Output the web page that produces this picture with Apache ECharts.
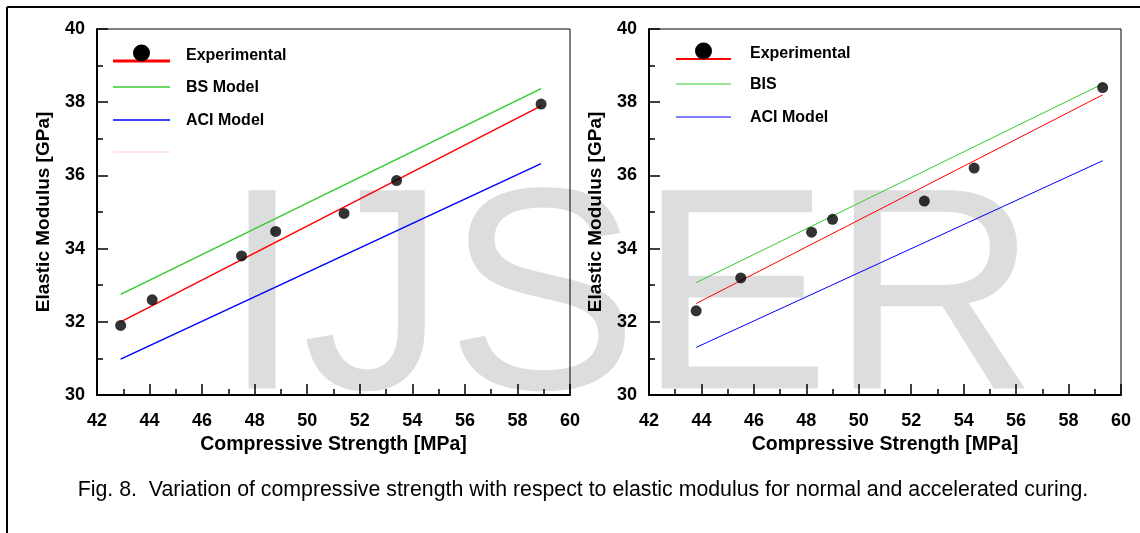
<!DOCTYPE html>
<html>
<head>
<meta charset="utf-8">
<script src="https://cdn.jsdelivr.net/npm/echarts@6/dist/echarts.min.js"></script>
<style>
  html, body { margin: 0; padding: 0; background: #fff; }
  #main { width: 1140px; height: 533px; }
</style>
</head>
<body>
<div id="main"></div>
<script>
// normal curing (left) - measured points and model lines [MPa, GPa]
var expNormal = [[42.9, 31.9], [44.1, 32.6], [47.5, 33.8], [48.8, 34.47], [51.4, 34.96], [53.4, 35.86], [58.9, 37.95]];
var fitNormal = [[42.9, 32.0], [58.9, 37.9]];
var bsNormal = [[42.9, 32.75], [58.9, 38.37]];
var aciNormal = [[42.9, 30.98], [58.9, 36.32]];

// accelerated curing (right)
var expAccel = [[43.8, 32.3], [45.5, 33.2], [48.2, 34.45], [49.0, 34.8], [52.5, 35.3], [54.4, 36.2], [59.3, 38.4]];
var fitAccel = [[43.8, 32.5], [59.3, 38.2]];
var bisAccel = [[43.8, 33.07], [59.3, 38.5]];
var aciAccel = [[43.8, 31.3], [59.3, 36.4]];

var legendNormal = ['Experimental', 'BS Model', 'ACI Model'];
var legendAccel = ['Experimental', 'BIS', 'ACI Model'];

var xName = 'Compressive Strength [MPa]';
var yName = 'Elastic Modulus [GPa]';
var caption = 'Fig. 8.  Variation of compressive strength with respect to elastic modulus for normal and accelerated curing.';

var FONT = 'Liberation Sans, Arial, sans-serif';
var RED = '#ff0000', GREEN = '#33cc33', BLUE = '#0000ff';

function xAxisFor(idx) {
  return {
    gridIndex: idx, type: 'value', min: 42, max: 60, interval: 2,
    name: xName, nameLocation: 'middle', nameGap: 34,
    nameTextStyle: { color: '#000', fontSize: 19.5, fontWeight: 'bold', fontFamily: FONT },
    axisLine: { lineStyle: { color: '#000', width: 2 } },
    axisTick: { inside: true, length: 11, lineStyle: { color: '#000', width: 1.5 } },
    minorTick: { show: true, splitNumber: 2, length: 6, lineStyle: { color: '#000', width: 1.5 } },
    splitLine: { show: false },
    axisLabel: { color: '#000', fontSize: 18, fontWeight: 'bold', fontFamily: FONT, margin: 17 }
  };
}
function yAxisFor(idx) {
  return {
    gridIndex: idx, type: 'value', min: 30, max: 40, interval: 2,
    name: yName, nameLocation: 'middle', nameGap: 44,
    nameTextStyle: { color: '#000', fontSize: 19, fontWeight: 'bold', fontFamily: FONT },
    axisLine: { show: true, lineStyle: { color: '#000', width: 2 } },
    axisTick: { inside: true, length: 11, lineStyle: { color: '#000', width: 1.5 } },
    minorTick: { show: true, splitNumber: 2, length: 6, lineStyle: { color: '#000', width: 1.5 } },
    splitLine: { show: false },
    axisLabel: { color: '#000', fontSize: 18, fontWeight: 'bold', fontFamily: FONT, margin: 12 }
  };
}
function lineSeries(name, idx, data, color, width) {
  return {
    name: name, type: 'line', xAxisIndex: idx, yAxisIndex: idx, data: data,
    showSymbol: false, symbol: 'none', silent: true, z: 3,
    lineStyle: { color: color, width: width }
  };
}
function scatterSeries(name, idx, data) {
  return {
    name: name, type: 'scatter', xAxisIndex: idx, yAxisIndex: idx, data: data,
    symbol: 'circle', symbolSize: 11, z: 4,
    itemStyle: { color: '#000' }
  };
}

// legend samples drawn by hand: dot on a red line, then plain lines
function legendGraphic(x0, x1, tx, rows, labels, widths) {
  var g = [];
  g.push({ type: 'line', shape: { x1: x0, y1: rows[0] + 8, x2: x1, y2: rows[0] + 8 }, style: { stroke: RED, lineWidth: widths[0] }, z: 10 });
  g.push({ type: 'circle', shape: { cx: (x0 + x1) / 2, cy: rows[0], r: 8.5 }, style: { fill: '#000' }, z: 11 });
  var cols = [RED, GREEN, BLUE];
  for (var i = 1; i < 3; i++) {
    g.push({ type: 'line', shape: { x1: x0, y1: rows[i], x2: x1, y2: rows[i] }, style: { stroke: cols[i], lineWidth: widths[1] }, z: 10 });
  }
  for (var j = 0; j < 3; j++) {
    g.push({ type: 'text', x: tx, y: rows[j] + (j === 0 ? 3 : 1), z: 10,
      style: { text: labels[j], fill: '#000', font: 'bold 16px ' + FONT, textVerticalAlign: 'middle' } });
  }
  return g;
}

var graphics = [
  // page frame (top and left rules)
  { type: 'line', shape: { x1: 7, y1: 7, x2: 1140, y2: 7 }, style: { stroke: '#000', lineWidth: 2 }, z: 1 },
  { type: 'line', shape: { x1: 7, y1: 7, x2: 7, y2: 533 }, style: { stroke: '#000', lineWidth: 2 }, z: 1 },
  // watermark
  { type: 'text', x: 222, y: 309, z: -10, silent: true,
    style: { text: 'IJSER', fill: '#dddddd', font: '288px ' + FONT, textVerticalAlign: 'middle' } },
  // caption
  { type: 'text', x: 583, y: 490, z: 1,
    style: { text: caption, fill: '#000', font: '21.3px ' + FONT, textAlign: 'center', textVerticalAlign: 'middle' } },
  // faint leftover legend line
  { type: 'line', shape: { x1: 113, y1: 152, x2: 170, y2: 152 }, style: { stroke: '#ffdede', lineWidth: 1.5 }, z: 10 }
];
graphics = graphics.concat(legendGraphic(113, 170, 186, [53, 87, 120], legendNormal, [3, 1.5]));
graphics = graphics.concat(legendGraphic(676, 731, 750, [51, 84, 117], legendAccel, [2, 1]));

var myChart = echarts.init(document.getElementById('main'));
var option = {
  backgroundColor: '#fff',
  animation: false,
  grid: [
    { left: 97, top: 29, width: 473, height: 366, show: true, borderColor: '#000', borderWidth: 1 },
    { left: 649, top: 29, width: 472, height: 366, show: true, borderColor: '#000', borderWidth: 1 }
  ],
  xAxis: [xAxisFor(0), xAxisFor(1)],
  yAxis: [yAxisFor(0), yAxisFor(1)],
  series: [
    lineSeries('BS Model', 0, bsNormal, GREEN, 1.5),
    lineSeries('ACI Model', 0, aciNormal, BLUE, 1.5),
    lineSeries('Experimental fit', 0, fitNormal, RED, 1.5),
    scatterSeries('Experimental', 0, expNormal),
    lineSeries('BIS', 1, bisAccel, GREEN, 1),
    lineSeries('ACI Model', 1, aciAccel, BLUE, 1),
    lineSeries('Experimental fit', 1, fitAccel, RED, 1),
    scatterSeries('Experimental', 1, expAccel)
  ],
  graphic: graphics
};
myChart.setOption(option);
</script>
</body>
</html>
